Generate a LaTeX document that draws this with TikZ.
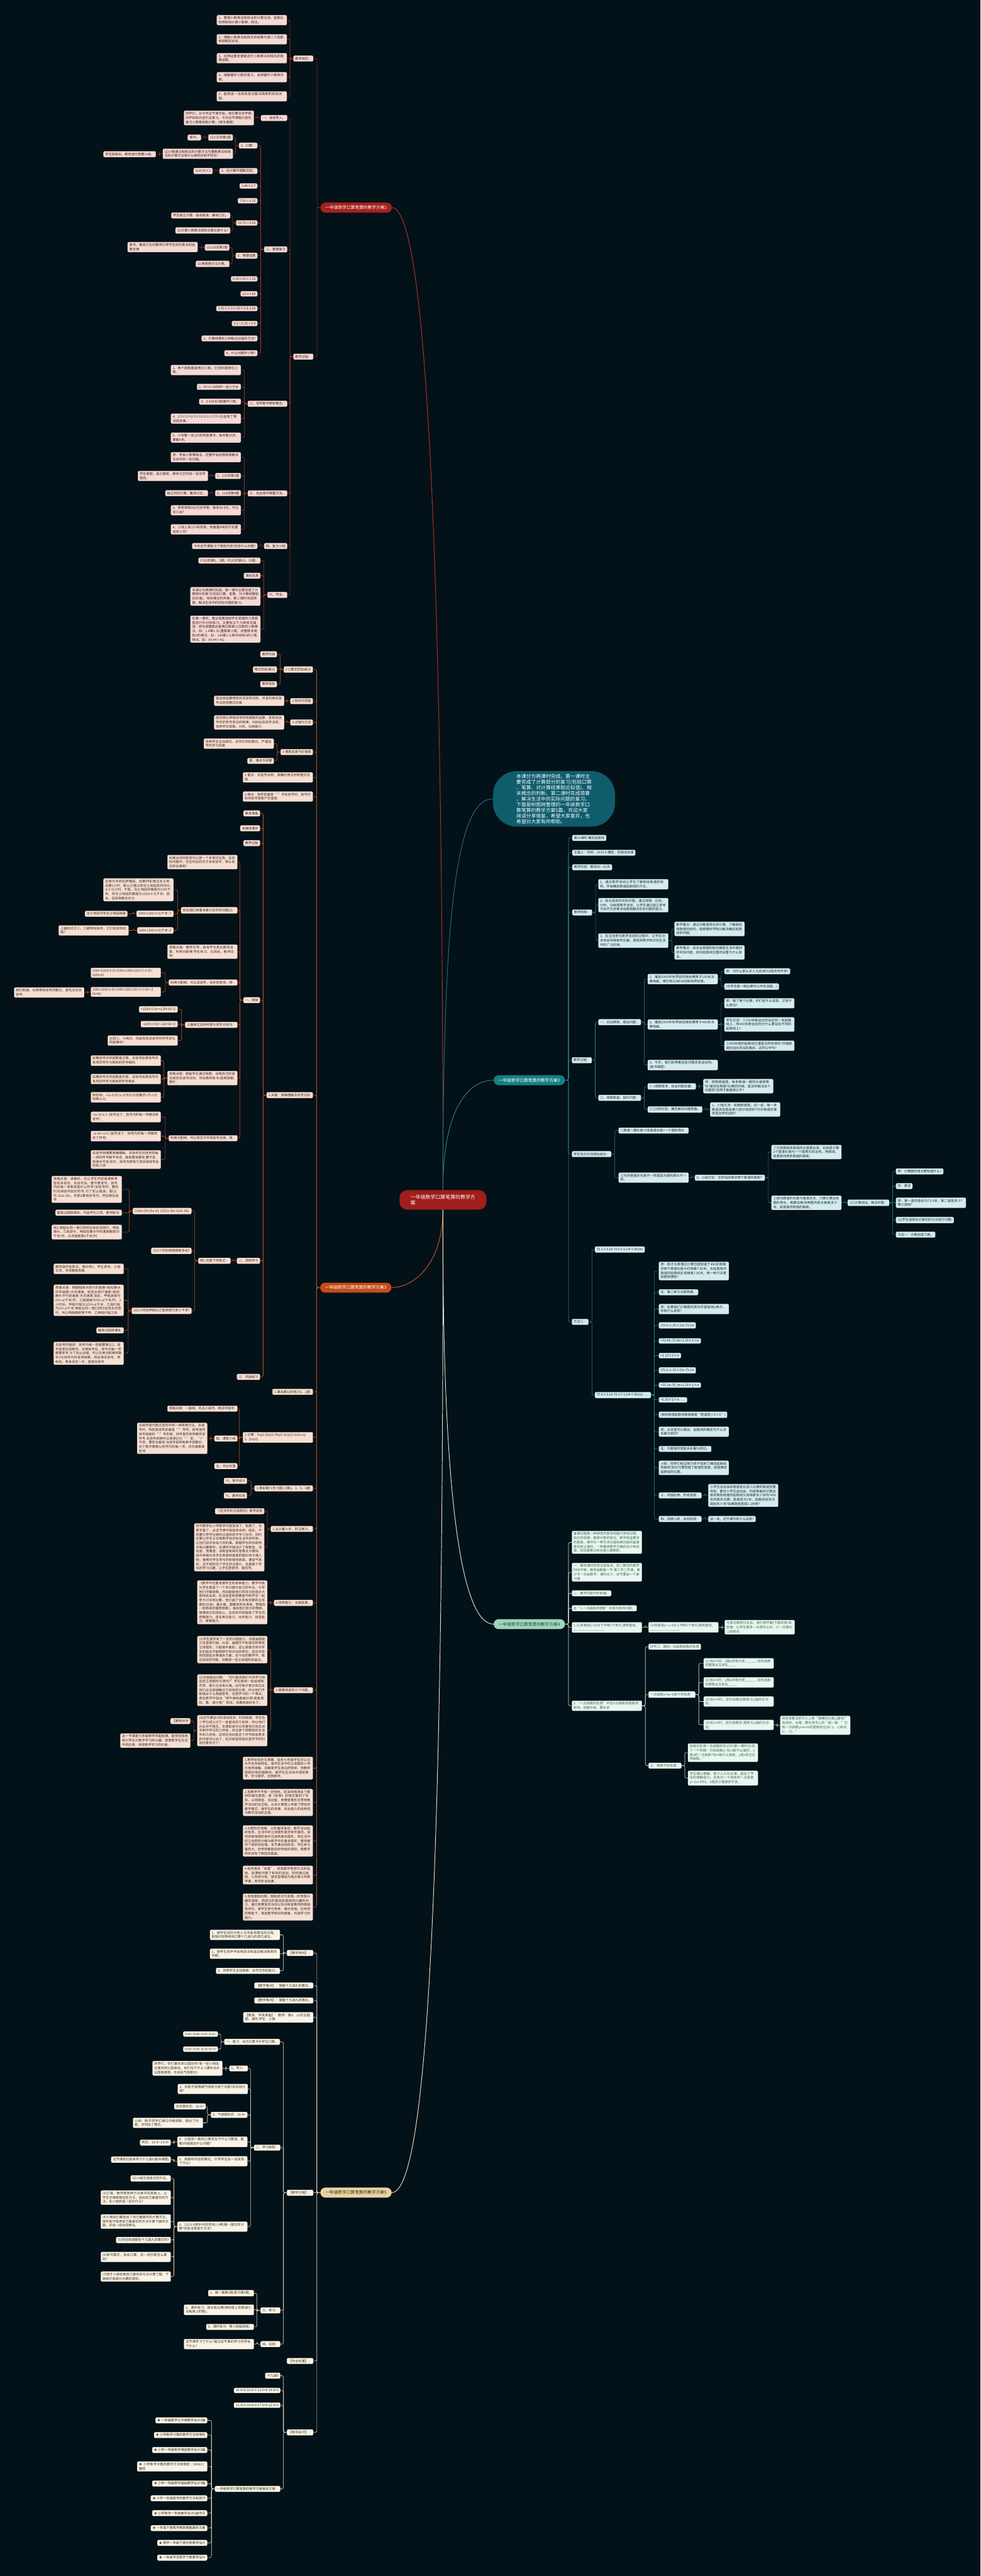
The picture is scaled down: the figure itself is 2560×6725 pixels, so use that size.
\documentclass[tikz,border=0pt]{standalone}
\usepackage{fontspec}
\setmainfont{Noto Sans CJK SC}
\XeTeXlinebreaklocale "zh"
\XeTeXlinebreakskip=0pt plus 1pt
\usetikzlibrary{calc}
\definecolor{bgdark}{RGB}{3,17,24}
\definecolor{ctrred}{RGB}{160,30,28}
\definecolor{introbg}{RGB}{14,92,108}
\definecolor{introline}{RGB}{40,110,122}
\definecolor{redmain}{RGB}{166,33,27}
\definecolor{redleaf}{RGB}{243,218,213}
\definecolor{redline}{RGB}{176,52,38}
\definecolor{redtext}{RGB}{60,30,25}
\definecolor{tealmain}{RGB}{22,128,132}
\definecolor{tealleaf}{RGB}{213,236,238}
\definecolor{tealline}{RGB}{44,128,134}
\definecolor{tealtext}{RGB}{25,40,42}
\definecolor{orgmain}{RGB}{196,76,24}
\definecolor{orgleaf}{RGB}{246,224,213}
\definecolor{orgline}{RGB}{204,82,32}
\definecolor{orgtext}{RGB}{60,35,25}
\definecolor{mintmain}{RGB}{158,214,188}
\definecolor{mintleaf}{RGB}{234,246,240}
\definecolor{mintline}{RGB}{205,232,219}
\definecolor{minttext}{RGB}{52,104,80}
\definecolor{beigemain}{RGB}{232,211,160}
\definecolor{beigeleaf}{RGB}{249,244,231}
\definecolor{beigeline}{RGB}{232,222,196}
\definecolor{beigetext}{RGB}{55,45,32}
\newcommand{\lsub}[3]{\foreach \nn in {#3}{\draw[#1] (#2.west) -- ++(-9pt,0) |- (\nn.east);}}
\newcommand{\rsub}[3]{\foreach \nn in {#3}{\draw[#1] (#2.east) -- ++(9pt,0) |- (\nn.west);}}

\begin{document}
\begin{tikzpicture}[x=1pt,y=-1pt,
  nd/.style={font=\fontsize{8.5}{11}\selectfont,inner xsep=4.5pt,inner ysep=3.5pt,rounded corners=2.5pt,align=left,line width=0.5pt},
  ml/.style={text width=173.5pt},
  mainbox/.style={font=\fontsize{11}{13}\selectfont,rounded corners=13pt,minimum height=26pt,inner xsep=13pt},
  rl/.style={nd,fill=redleaf,draw=redleaf!80!redline,text=redtext,anchor=east},
  tl/.style={nd,fill=tealleaf,draw=tealleaf!80!tealline,text=tealtext,anchor=west},
  ol/.style={nd,fill=orgleaf,draw=orgleaf!80!orgline,text=orgtext,anchor=east},
  gl/.style={nd,fill=mintleaf,draw=mintleaf!85!minttext,text=minttext,anchor=west},
  bl/.style={nd,fill=beigeleaf,draw=beigeleaf!85!beigetext,text=beigetext,anchor=east},
  rc/.style={draw=redline,line width=1pt,rounded corners=4pt},
  tc/.style={draw=tealline,line width=1pt,rounded corners=4pt},
  oc/.style={draw=orgline,line width=1pt,rounded corners=4pt},
  gc/.style={draw=mintline,line width=1pt,rounded corners=4pt},
  bc/.style={draw=beigeline,line width=1pt,rounded corners=4pt},
  trunk/.style={line width=1.6pt}
]
\fill[bgdark] (0,0) rectangle (2560,6725);
\useasboundingbox (0,0) rectangle (2560,6725);

% centre and intro
\node[fill=ctrred,text=white,font=\fontsize{13}{16}\selectfont,rounded corners=20pt,minimum width=227pt,minimum height=51pt,align=left] (ctr) at (1156.5,3132.5) {一年级数学口算笔算的教学方\\案};
\node[fill=introbg,text=white,font=\fontsize{12.8}{14.7}\selectfont,rounded corners=62pt,minimum width=319pt,minimum height=145pt,align=left] (intro) at (1446.5,2085.5) {本课分为两课时完成。第一课时主\\要完成了计算部分的复习(包括口算\\、笔算、对计算结果取近似值)、相\\关概念的判断。第二课时完成简算\\、解决生活中的实际问题的复习。\\下面是树图网整理的一年级数学口\\算笔算的教学方案5篇，欢迎大家\\阅读分享借鉴，希望大家喜欢，也\\希望对大家有所帮助。};
\node[mainbox,fill=redmain,text=white] (p1) at (930,542) {一年级数学口算笔算的教学方案1};
\node[mainbox,fill=tealmain,text=white] (p2) at (1382,2820) {一年级数学口算笔算的教学方案2};
\node[mainbox,fill=orgmain,text=white] (p3) at (929,3361.5) {一年级数学口算笔算的教学方案3};
\node[mainbox,fill=mintmain,text=minttext!70!black] (p4) at (1382,4240) {一年级数学口算笔算的教学方案4};
\node[mainbox,fill=beigemain,text=beigetext] (p5) at (929.5,5724) {一年级数学口算笔算的教学方案5};

% plan 1
\node[rl] (r1) at (818,153) {教学目的：};
\node[rl] (r2) at (818,931) {教学过程：};
\node[rl,ml] (r11) at (749,52.5) {1、整理小数乘法和除法的计算法则，能够比较熟练地计算小数乘、除法。};
\node[rl,ml] (r12) at (749,102.5) {2、理解小数乘法和除法的结果与第二个因数和除数的关系。};
\node[rl,ml] (r13) at (749,152) {3、应用运算定律能进行小数乘法和除法的简便运算。};
\node[rl,ml] (r14) at (749,201.5) {4、理解循环小数的意义，会用循环小数表示商。};
\node[rl,ml] (r15) at (749,251.5) {5、能用进一法和收尾法解决简单的实际问题。};
\node[rl] (ra) at (750,308) {一、谈话导入。};
\node[rl,ml] (ra1) at (663,308) {同学们，从今天这节课开始，我们要对本学期所学和知识进行总复习。今天这节课我们首先复习小数乘除数计算。[板书课题]};
\node[rl] (rb) at (750,651) {二、整理复习};
\node[rl] (rb1) at (672,380) {1、口算：};
\node[rl] (rb1a) at (608,359) {(1)120页第1题};
\node[rl] (rb1aa) at (525,359) {填书。};
\node[rl,ml] (rb1b) at (608,401.5) {(2)小数乘法和除法的计算方法与整数乘法和除法的计算方法有什么相同点和不同点?};
\node[rl] (rb1ba) at (407,402.5) {学生回答后，教师进行简要小结。};
\node[rl] (rb2) at (672,446.5) {2、在计算中理解法则。};
\node[rl] (rb2a) at (555,446.5) {(1)4.05×2};
\node[rl] (rb3) at (672,485.5) {1.84×3.7};
\node[rl] (rb4) at (672,524) {7.55÷0.25};
\node[rl] (rb5) at (672,582) {15.75÷0.63};
\node[rl] (rb5a) at (601,562.5) {学生独立计算，指名板演，集体订正。};
\node[rl] (rb5b) at (601,601.5) {(2)计算小数乘法和除法要注意什么?};
\node[rl] (rb6) at (672,667.5) {3、简便运算};
\node[rl] (rb6a) at (599,646) {(1)123页第2题};
\node[rl,ml] (rb6aa) at (516,645) {填书，集体订正时教师引导学生回忆乘法的运算定律.};
\node[rl] (rb6b) at (599,689) {(2)用简便方法计算。};
\node[rl] (rb7) at (672,728) {0.25×32×1.25};
\node[rl] (rb8) at (672,767) {10.1×85};
\node[rl] (rb9) at (672,805.5) {2.85×5.2+2.85×5.8-2.85};
\node[rl] (rb10) at (672,844.5) {3.6÷0.25÷0.4};
\node[rl] (rb11) at (672,883.5) {3、计算结果有几种取近似值的方法?};
\node[rl] (rb12) at (672,922) {4、什么叫循环小数?};
\node[rl] (rc) at (750,1054) {二、在判断中辨析概念。};
\node[rl,ml] (rc1) at (629,966) {1、两个因数都是两位小数，它的积是两位小数。};
\node[rl] (rc2) at (629,1010) {2、M×0.98的积一定小于M.};
\node[rl] (rc3) at (629,1048.5) {3、3.636363是循环小数。};
\node[rl,ml] (rc4) at (629,1093) {4、2.5×17+2.5×13=2.5×(17+13)运用了乘法结合律。};
\node[rl,ml] (rc5) at (629,1142.5) {5、小毛看一本120页的故事书，每天看35页，要看4天。};
\node[rl] (rd) at (750,1288) {三、在运用中掌握方法。};
\node[rl,ml] (rd1) at (629,1193.5) {师：学会小数乘除法，还要学会运用知道解决生活中的一些问题。};
\node[rl] (rd2) at (629,1242.5) {1、120页第2题};
\node[rl,ml] (rd2a) at (543,1242.5) {学生审题，独立解答，集体订正时说一说怎样想的。};
\node[rl] (rd3) at (629,1287.5) {2、123页第4题};
\node[rl] (rd3a) at (543,1287.5) {独立列式计算，集体订正。};
\node[rl,ml] (rd4) at (629,1332) {3、李老师用200元买字典，每本40.8元，可以买几本?};
\node[rl,ml] (rd5) at (629,1382) {4、工地上有171吨货物，用载重8吨的汽车要运多少次?};
\node[rl] (re) at (750,1425.5) {四、复习小结};
\node[rl] (re1) at (672,1425.5) {今天这节课复习了哪些内容?还有什么问题?};
\node[rl] (rf) at (750,1553) {六、作业。};
\node[rl] (rf1) at (680,1463.5) {P123页第1、3题，P125页第13、15题。};
\node[rl] (rf2) at (680,1503) {课后反思};
\node[rl,ml] (rf3) at (680,1557) {本课分为两课时完成。第一课时主要完成了计算部分的复习(包括口算、笔算、对计算结果取近似值)、相关概念的判断。第二课时完成简算、解决生活中的实际问题的复习。};
\node[rl,ml] (rf4) at (680,1642.5) {在第一课时，建议笔算选取学生易错的几类题型进行针对性练习。主要有以下几种常见错误：转化成整数后是两位数乘三位数的小数乘法，如：1.4乘1.32;整数乘小数，且整数末尾有0的乘法，如：140乘1.3;商中间有0的小数除法，如：89.44÷43。};
\lsub{rc}{p1}{r1,r2}
\lsub{rc}{r1}{r11,r12,r13,r14,r15}
\lsub{rc}{r2}{ra,rb,rc,rd,re,rf}
\lsub{rc}{ra}{ra1}
\lsub{rc}{rb}{rb1,rb2,rb3,rb4,rb5,rb6,rb7,rb8,rb9,rb10,rb11,rb12}
\lsub{rc}{rb1}{rb1a,rb1b}
\lsub{rc}{rb1a}{rb1aa}
\lsub{rc}{rb1b}{rb1ba}
\lsub{rc}{rb2}{rb2a}
\lsub{rc}{rb5}{rb5a,rb5b}
\lsub{rc}{rb6}{rb6a,rb6b}
\lsub{rc}{rb6a}{rb6aa}
\lsub{rc}{rc}{rc1,rc2,rc3,rc4,rc5}
\lsub{rc}{rd}{rd1,rd2,rd3,rd4,rd5}
\lsub{rc}{rd2}{rd2a}
\lsub{rc}{rd3}{rd3a}
\lsub{rc}{re}{re1}
\lsub{rc}{rf}{rf1,rf2,rf3,rf4}

% plan 2
\node[tl] (ta) at (1494,2187.5) {第10课时 确定起跑线};
\node[tl] (tb) at (1494,2226) {主备人：时间：2014.9 课型：实践活动课};
\node[tl] (tcc) at (1494,2264) {教学内容：教材80—81页};
\node[tl] (td) at (1494,2382) {教学目标：};
\node[tl,ml] (td1) at (1562,2308.5) {1、通过数学活动让学生了解田径跑道的结构，学会确定跑道起跑线的方法。};
\node[tl,ml] (td2) at (1562,2363) {2、结合具体的实际问题，通过观察、比较、分析、归纳等数学活动，让学生通过独立思考与合作交流等活动提高解决实际问题的能力。};
\node[tl,ml] (td3) at (1562,2455.5) {3、在主动参与数学活动的过程中，让学生切实体会到探索的乐趣，感受到数学知识在生活中的广泛应用。};
\node[tl,ml] (td31) at (1761,2425) {教学重点：通过对跑道周长的计算，了解田径场跑道的结构，能根据所学知识解决确定起跑线的问题。};
\node[tl,ml] (td32) at (1761,2486.5) {教学难点：综合运用圆的知识解答生活中遇到的实际问题，探究起跑线位置的设置与什么有关。};
\node[tl] (te) at (1493,2768) {教学过程：};
\node[tl] (te1) at (1562,2668.5) {一、创设情境，提出问题：};
\node[tl,ml] (te11) at (1691,2556) {1、播放2009年世界田径锦标赛男子100米决赛场面，博尔特以9秒58创新世界纪录。};
\node[tl] (te111) at (1891,2535.5) {师：为什么那么多人为这9秒58而欢呼不停?};
\node[tl] (te112) at (1891,2575.5) {(与学生聊一聊比赛中公平的话题。)};
\node[tl,ml] (te12) at (1691,2674.5) {2、播放2009年世界田径锦标赛男子400米决赛场面。};
\node[tl,ml] (te121) at (1891,2619) {师：看了两个比赛，你们有什么发现，又有什么想法?};
\node[tl,ml] (te122) at (1891,2674.5) {学生交流：①100米跑运动员站在同一条起跑线上，而400米跑运动员为什么要站在不同的起跑线上?};
\node[tl,ml] (te123) at (1891,2730) {②400米跑的起跑线位置是怎样安排的?外面跑道的运动员站在最前，这样公平吗?};
\node[tl,ml] (te13) at (1691,2780.5) {3、今天，我们就带着这些问题走进运动场。(板书课题)};
\node[tl] (te2) at (1562,2866) {二、观察跑道，探究问题：};
\node[tl] (te21) at (1691,2836) {(一)观察思考，找出问题关键。};
\node[tl,ml] (te211) at (1836,2835.5) {师：观察跑道图，每条跑道一圈的长度相等吗?差别在哪里?比赛的时候，是怎样解决这个问题的?怎样才能做到公平?};
\node[tl] (te22) at (1691,2896.5) {(二)分析比较，确定解决问题思路。};
\node[tl,ml] (te221) at (1854,2896.5) {1、小组交流：观察跑道图，说一说，每一条跑道具体是由哪几部分组成的?内外跑道的差异是怎样形成的?};
\node[tl] (tf) at (1493,3013) {学生充分交流得出结论：};
\node[tl,ml] (tf1) at (1615,2951.5) {①跑道一圈长度=2条直道长度+一个圆的周长};
\node[tl,ml] (tf2) at (1615,3074.5) {②内外跑道的长度不一样是因为圆的周长不一样。};
\node[tl,ml] (tf21) at (1814,3074.5) {2、小组讨论：怎样找出相邻两个跑道的差距?};
\node[tl,ml] (tf211) at (2014,3007.5) {①分别把每条跑道的长度算出来，也就是计算2个直道长度与一个圆周长的总和，再相减，就是相邻两条跑道的差距。};
\node[tl,ml] (tf212) at (2014,3140) {②因为跑道的长度与直道无关，只要计算出各圆的周长，再算出相邻两圆的周长相差多少米，就是相邻跑道的差距。};
\node[tl] (tf2121) at (2213,3140) {(三)计算验证，解决问题：};
\node[tl] (tg1) at (2339,3058) {师：计算圆的周长要知道什么?};
\node[tl] (tg2) at (2339,3096.5) {生：直径};
\node[tl,ml] (tg3) at (2339,3140) {师：第一道的直径为72.6米，第二道是多少?第三道呢?};
\node[tl] (tg4) at (2339,3185) {(让学生选择自己喜欢的方法进行计算)};
\node[tl] (tg5) at (2339,3223) {方法一：计算完成下表。};
\node[tl] (th) at (1493,3451) {方法二：};
\node[tl] (th1) at (1553,3262) {75.1×3.14-72.6×3.14=7.85(m)};
\node[tl] (th2) at (1553,3642) {77.6×3.14-75.1×3.14=7.85(m) ......};
\node[tl,ml] (th21) at (1720,3318) {师：刚才大家通过计算已经知道了400米跑相邻两个跑道长度大约相差7.85米，也就是相邻跑道的起跑线应该相差7.85米。哪一种方法更快更简便呢?};
\node[tl] (th22) at (1720,3373.5) {生：第二种方法更简便。};
\node[tl,ml] (th23) at (1720,3417.5) {师：如果我们计算圆的周长时直接用π表示，你有什么发现?};
\node[tl] (th24) at (1720,3460) {(72.6+1.25×2)π-72.6π};
\node[tl] (th25) at (1720,3500.5) {=72.6π-72.6π+1.25×2×π};
\node[tl] (th26) at (1720,3539) {=1.25×2×π};
\node[tl] (th27) at (1720,3577.5) {(75.1+1.25×2)π-75.1π};
\node[tl] (th28) at (1720,3616) {=75.1π-75.1π+1.25×2×π};
\node[tl] (th29) at (1720,3654.5) {=1.25×2×π ......};
\node[tl] (th2a) at (1720,3693.5) {(相邻跑道起跑线相差都是“跑道宽×2×π”)};
\node[tl,ml] (th2b) at (1720,3737.5) {师：从这里可以看出：起跑线的确定与什么关系最为密切?};
\node[tl] (th2c) at (1720,3782.5) {生：与跑道的宽度关系最为密切。};
\node[tl,ml] (th2d) at (1720,3832) {小结：同学们经过努力终于找到了确定起跑线的秘密!其实只要知道了跑道的宽度，就能确定起跑线的位置。};
\node[tl] (th2e) at (1720,3904) {三、巩固应用，形成技能：};
\node[tl,ml] (th2e1) at (1849,3904) {小学生运动会的跑道宽比成人比赛的跑道宽要窄些，要开小学生运动会，你能帮裁判计算出相邻两条跑道的起跑线又该相差多少米吗?400米的跑步比赛，跑道宽为1米，起跑线该依次提前多少米?如果跑道宽是1.2米呢?};
\node[tl] (th2f) at (1720,3965.5) {四、回顾小结，体验收获：};
\node[tl] (th2f1) at (1849,3965.5) {谈一谈，这节课你有什么收获?};
\rsub{tc}{p2}{ta,tb,tcc,td,te,tf,th}
\rsub{tc}{td}{td1,td2,td3}
\rsub{tc}{td3}{td31,td32}
\rsub{tc}{te}{te1,te2}
\rsub{tc}{te1}{te11,te12,te13}
\rsub{tc}{te11}{te111,te112}
\rsub{tc}{te12}{te121,te122,te123}
\rsub{tc}{te2}{te21,te22}
\rsub{tc}{te21}{te211}
\rsub{tc}{te22}{te221}
\rsub{tc}{tf}{tf1,tf2}
\rsub{tc}{tf2}{tf21}
\rsub{tc}{tf21}{tf211,tf212}
\rsub{tc}{tf212}{tf2121}
\rsub{tc}{tf2121}{tg1,tg2,tg3,tg4,tg5}
\rsub{tc}{th}{th1,th2}
\rsub{tc}{th2}{th21,th22,th23,th24,th25,th26,th27,th28,th29,th2a,th2b,th2c,th2d,th2e,th2f}
\rsub{tc}{th2e}{th2e1}
\rsub{tc}{th2f}{th2f1}

% plan 3
\node[ol] (oa) at (817,1748) {2.2 整式的加减(2)};
\node[ol] (oa1) at (723,1708) {教学内容};
\node[ol] (oa2) at (723,1748) {整式的加减(2)};
\node[ol] (oa3) at (723,1786) {教学目标};
\node[ol] (ob) at (817,1830.5) {1.知识与技能};
\node[ol,ml] (ob1) at (742,1829.5) {能运用运算律探究去括号法则，并且利用去括号法则将整式化简.};
\node[ol] (oc) at (817,1886) {2.过程与方法};
\node[ol,ml] (oc1) at (742,1886) {经历类比带有括号的有理数的运算，发现去括号时的符号变化的规律，归纳出去括号法则，培养学生观察、分析、归纳能力.};
\node[ol] (od) at (817,1963.5) {3.情感态度与价值观};
\node[ol,ml] (od1) at (715,1941.5) {培养学生主动探究、合作交流的意识，严谨治学的学习态度.};
\node[ol] (od2) at (715,1986.5) {重、难点与关键};
\node[ol,ml] (oe) at (817,2029.5) {1.重点：去括号法则，准确应用法则将整式化简.};
\node[ol,ml] (of) at (817,2079.5) {2.难点：括号前面是“-”号去括号时，括号内各项变号容易产生错误.};
\node[ol] (og) at (817,2859) {3.关键：准确理解去括号法则.};
\node[ol] (og1) at (679,2123.5) {教具准备};
\node[ol] (og2) at (679,2162.5) {多媒体课件};
\node[ol] (og3) at (679,2201) {教学过程};
\node[ol] (og4) at (679,2611) {一、新授};
\node[ol] (og5) at (679,3291.5) {二、范例学习};
\node[ol] (og6) at (679,3594.5) {三、巩固练习};
\node[ol,ml] (n1) at (620,2250.5) {利用合并同类项可以把一个多项式化简，在实际问题中，往往列出的式子含有括号，那么该怎样化简呢?};
\node[ol] (n2) at (620,2376.5) {现在我们来看本章引言中的问题(3)：};
\node[ol,ml] (n21) at (453,2323) {在格尔木到拉萨路段，如果列车通过冻土地段要t小时，那么它通过非冻土地段的时间为(t-0.5)小时，于是，冻土地段的路程为100t千米，非冻土地段的路程为120(t-0.5)千米，因此，这段铁路全长为};
\node[ol] (n22) at (453,2385.5) {100t+120(t-0.5)千米 ①};
\node[ol] (n221) at (333,2385.5) {冻土地段与非冻土地段相差};
\node[ol] (n23) at (453,2429) {100t-120(t-0.5)千米 ②};
\node[ol,ml] (n231) at (336,2429) {上面的式子①、②都带有括号，它们应如何化简?};
\node[ol,ml] (n3) at (620,2484.5) {思路点拨：教师引导，启发学生类比数的运算，利用分配律.学生练习、交流后，教师归纳：};
\node[ol] (n4) at (620,2565) {利用分配律，可以去括号，合并同类项，得：};
\node[ol,ml] (n41) at (420,2539.5) {100t+120(t-0.5)=100t+120t+120×(-0.5)=\\220t-60};
\node[ol,ml] (n42) at (420,2589.5) {100t-120(t-0.5)=100t-120t-120×(-0.5)=-2\\0t+60};
\node[ol,ml] (n421) at (220,2591) {我们知道，化简带有括号的整式，首先应先去括号.};
\node[ol] (n5) at (620,2675.5) {上面两式去括号部分变形分别为：};
\node[ol] (n51) at (464,2635) {+120(t-0.5)=+120t-60 ③};
\node[ol] (n52) at (464,2673.5) {-120(t-0.5)=-120+60 ④};
\node[ol,ml] (n53) at (464,2716.5) {比较③、④两式，你能发现去括号时符号变化的规律吗?};
\node[ol,ml] (n6) at (620,2814.5) {思路点拨：鼓励学生通过观察，试用自己的语言叙述去括号法则，然后教师板书(或用屏幕)展示：};
\node[ol,ml] (n61) at (420,2769) {如果括号外的因数是正数，去括号后原括号内各项的符号与原来的符号相同;};
\node[ol,ml] (n62) at (420,2817) {如果括号外的因数是负数，去括号后原括号内各项的符号与原来的符号相反.};
\node[ol,ml] (n63) at (420,2864.5) {特别地，+(x-3)与-(x-3)可以分别看作1与-1分别乘(x-3).};
\node[ol] (n7) at (620,2971.5) {利用分配律，可以将式子中的括号去掉，得：};
\node[ol,ml] (n71) at (420,2916) {+(x-3)=x-3 (括号没了，括号内的每一项都没有变号)};
\node[ol,ml] (n72) at (420,2966) {-(x-3)=-x+3 (括号没了，括号内的每一项都改变了符号)};
\node[ol,ml] (n73) at (420,3027) {去括号规律要准确理解，去括号应对括号的每一项的符号都予考虑，做到要变都变;要不变，则谁也不变;另外，括号内原有几项去掉括号后仍有几项.};
\node[ol] (e1) at (602,3291.5) {例1.化简下列各式：};
\node[ol] (e11) at (500,3161.5) {(1)8a+2b+(5a-b); (2)(5a-3b)-3(a2-2b).};
\node[ol,ml] (e111) at (318,3105) {思路点拨：讲解时，先让学生判定是哪种类型的去括号，去括号后，要不要变号，括号内的每一项原来是什么符号?去括号时，要同时去掉括号前的符号.为了防止错误，题(2)中-3(a2-2b)，先把3乘到括号内，然后再去括号.};
\node[ol] (e112) at (318,3166) {解答过程按课本，可由学生口述，教师板书.};
\node[ol,ml] (e113) at (318,3216.5) {例2.两船从同一港口同时出发反向而行，甲船顺水，乙船逆水，两船在静水中的速度都是50千米/时，水流速度是a千米/时.};
\node[ol] (e12) at (500,3265.5) {(1)2小时后两船相距多远?};
\node[ol] (e13) at (500,3422) {(2)2小时后甲船比乙船多航行多少千米?};
\node[ol,ml] (e131) at (323,3312.5) {教师操作投影仪，展示例2，学生思考、小组交流，寻求解答思路.};
\node[ol,ml] (e132) at (323,3394.5) {思路点拨：根据船顺水航行的速度=船在静水中的速度+水流速度，船逆水航行速度=船在静水中行驶速度-水流速度.因此，甲船速度为(50+a)千米/时，乙船速度为(50-a)千米/时，2小时后，甲船行程为2(50+a)千米，乙船行程为(50-a)千米.两船从同一港口同时出发反向而行，所以两船相距等于甲、乙两船行程之和.};
\node[ol] (e133) at (323,3473) {解答过程按课本.};
\node[ol,ml] (e134) at (323,3533) {去括号时强调：括号内每一项都要乘以2，括号前是负因数时，去掉括号后，括号内每一项都要变号.为了防止出错，可以先用分配律将数字2与括号内的各项相乘，然后再去括号，熟练后，再省去这一步，直接去括号.};
\node[ol] (oh) at (817,3633.5) {1.课本第68页练习1、2题.};
\node[ol,ml] (oi) at (817,3752.5) {2.计算：5xy2-[3xy2-(4xy2-2x2y)]+2x2y-xy\\2. [5xy2]};
\node[ol,ml] (oi1) at (620,3677.5) {思路点拨：一般地，先去小括号，再去中括号.};
\node[ol] (oi2) at (620,3755.5) {四、课堂小结};
\node[ol,ml] (oi21) at (541,3755) {去括号是代数式变形中的一种常用方法，去括号时，特别是括号前面是“-”号时，括号连同括号前面的“-”号去掉，括号里的各项都改变符号.去括号规律可以简单记为“-”变，“+”不变，要变全都变.当括号前带有数字因数时，这个数字要乘以括号内的每一项，切勿漏乘某些项.};
\node[ol] (oi3) at (620,3827.5) {五、作业布置};
\node[ol] (oj) at (817,3885.5) {1.课本第71页习题2.2第2、3、5、8题.};
\node[ol] (oj1) at (645,3866) {六、板书设计};
\node[ol] (oj2) at (645,3904.5) {七、教学反思};
\node[ol] (ok) at (817,3991.5) {1.从兴趣入手，抓注意力。};
\node[ol] (ok1) at (690,3945) {《生活中的立体图形》教学反思};
\node[ol,ml] (ok2) at (690,4039.5) {初中数学比小学数学内容加深了、拓展了，也更丰富了，从这节课中就能体会到。因此，不但要引导学生顺利过渡到初中学习当中，同时还要让学生认识到数学在实际生活中的作用，让他们初步体会几何的美。根据学生的年龄特点和兴趣爱好，在课件中我设计了观察室、活动室、竞赛室、训练室和探究室等五大模块，其中穿插许多学生熟悉和喜爱的图片和卡通人物，使用时学生参与的积极性很高，课堂气氛好，这不但抓住了学生的注意力，还提高了学生的学习兴趣，让学生愿意学、喜欢学。};
\node[ol] (ol) at (817,4184.5) {2.培养能力，全面发展。};
\node[ol,ml] (ol1) at (698,4183) {《教学中还要发展学生的各种能力。教学中我为学生营造了一个充分展示自己的平台，引导他们仔细观察，然后鼓励他们将自己的观点大胆地说出来，在活动室和竞赛室中和学生一起参与讨论和比赛，他们画了许多有创意的立体图形(比如，墨水瓶、圆锥体的冰淇淋、草帽及一些简单的建筑物等)，我给他们充分的赞扬，增强他们的自信心。这无形中就锻炼了学生的观察能力、语言表达能力、动手能力、创造能力、审美能力。};
\node[ol] (om) at (817,4412.5) {3.需要改进的三个问题。};
\node[ol,ml] (om1) at (698,4306.5) {(1)学生虽然有了一定的识图能力，但是画图能力还是很欠缺。比如，画图时不知道怎样表现立体图形，只能画平面的。这让我意识到对学生的起点不能局限于知识点的研究，还应涉及到技能起点等诸多方面，在今后的教学中，我应该规范作图，并教授一些立体图形的画法。};
\node[ol,ml] (om2) at (698,4412.5) {(2)当我提出问题：“你们能将我们今天学习到这些立体图形分类吗?”学生感到一些迷惑和茫然，很久也没有头绪。此时我才意识到过去他们从没有接触过几何体的分类，所以他们不知道从什么角度思考，这是学习的一个难点。若在教学中指出“按平面和曲面分类(或者按柱、锥、球分类)”的话，效果就会好多了。};
\node[ol,ml] (om3) at (698,4518) {(3)这节课设计的活动较多，时间很紧，学生在小学已经认识了一些基本的几何体，所以他们对此并不陌生，在课前就可以布置他们回去动手制作学过的几何体，并记录下观察到的生活中的几何体。这样在活动室这个环节就有更多的内容可以说了，在训练室和探究室环节的时间也更充分了!};
\node[ol] (om31) at (497,4493) {【案例点评};
\node[ol,ml] (om32) at (497,4544) {这一节课是七年级数学的起始课，能否较快地吸引学生对数学学习的兴趣，感悟数学在生活中的应用，体现数学学习的价值，};
\node[ol,ml] (on) at (817,4616) {1.教学目标定位准确，适合七年级学生的认识水平及年龄特征。虽然生活中的立体图形小学已有所接触，且都是学生身边的物体，但教师能很好地挖掘教材，使学生在活动中感受数学、学习数学、欣赏数学。};
\node[ol,ml] (oo) at (817,4705.5) {2.各教学环节有一定特色，较深刻地领会了教材的编写意图，使《标准》的理念落到了实处。以观察室、活动室、竞赛室等形式贯穿教学活动的全过程，从设计意图上突破了原有的教学模式，使学生的发展、综合能力的培养成为教学活动的主题。};
\node[ol,ml] (op) at (817,4806) {3.对图形的观察、分析循序渐进，教学活动组织有序。生活中的立体图形是非常丰富的，如何将简单图形逐步过渡到复杂图形，将生活中的立体图形分解为数学中的基本图形，教师都作了很好的处理。本节课活动较多，学生参与量较大，但老师都能较好地组织调控，使教学的实效有了明显的提高。};
\node[ol,ml] (oq) at (817,4895) {4.有效落实“双基”，体现数学思想方法的运用。该课既开展了有效的活动，同时通过画图、几何体分类，使这堂课成为真正意义的数学课，而并非活动课。};
\node[ol,ml] (os) at (817,4978.5) {5.渗透激励机制，鼓励成功与发展。好奇是兴趣的源泉，而成功的喜悦则是保持兴趣的动力。通过竞赛室的活动以及训练室教师的鼓励性评价，使学生参与竞争，展示自我。在老师的帮助下，增加数学知识的储备，巩固学习的能力。};
\lsub{oc}{p3}{oa,ob,oc,od,oe,of,og,oh,oi,oj,ok,ol,om,on,oo,op,oq,os}
\lsub{oc}{oa}{oa1,oa2,oa3}
\lsub{oc}{ob}{ob1}
\lsub{oc}{oc}{oc1}
\lsub{oc}{od}{od1,od2}
\lsub{oc}{og}{og1,og2,og3,og4,og5,og6}
\lsub{oc}{og4}{n1,n2,n3,n4,n5,n6,n7}
\lsub{oc}{n2}{n21,n22,n23}
\lsub{oc}{n22}{n221}
\lsub{oc}{n23}{n231}
\lsub{oc}{n4}{n41,n42}
\lsub{oc}{n42}{n421}
\lsub{oc}{n5}{n51,n52,n53}
\lsub{oc}{n6}{n61,n62,n63}
\lsub{oc}{n7}{n71,n72,n73}
\lsub{oc}{og5}{e1}
\lsub{oc}{e1}{e11,e12,e13}
\lsub{oc}{e11}{e111,e112,e113}
\lsub{oc}{e13}{e131,e132,e133,e134}
\lsub{oc}{oi}{oi1,oi2,oi3}
\lsub{oc}{oi2}{oi21}
\lsub{oc}{oj}{oj1,oj2}
\lsub{oc}{ok}{ok1,ok2}
\lsub{oc}{ol}{ol1}
\lsub{oc}{om}{om1,om2,om3}
\lsub{oc}{om3}{om31,om32}

% plan 4
\node[gl,ml] (ga) at (1493,4026.5) {备课过程是一种艰苦的复杂的脑力劳动过程，知识的发展、教育对象的变化、教学效益要求的提高，使作为一种艺术创造和再创造的备课是没有止境的，一种最佳教学方案的设计和选择，往往是难以完全使人满意的。};
\node[gl,ml] (gb) at (1493,4104.5) {一：教材课时安排过紧有关。初二教材的教学时间不够，教参函数第一节 第二节二节课，第三节一次函数节，课时太少，本节要加一个复习课};
\node[gl] (gcc) at (1493,4159.5) {二：教学内容不好处理。};
\node[gl] (gd) at (1493,4198.5) {在“2.一次函数的图象”中有平移的问题。};
\node[gl,ml] (ge) at (1493,4248.5) {1.(1)将直线y=3x向下平移2个单位,得到直线\_\\\_\_\_\_\_\_\_\_\_\_\_\_\_\_\_\_;};
\node[gl,ml] (ge1) at (1693,4248.5) {(2)将直线y=-x-5向上平移5个单位,得到直线\_\\\_\_\_\_\_\_\_\_\_\_\_\_\_\_\_\_.};
\node[gl,ml] (ge11) at (1892,4248) {与多位教师讨论后，我们用学案(下面的表)来处理，让学生更多一点感性认识，少一点理论上的结论};
\node[gl,ml] (gf) at (1493,4453) {2.“一次函数的性质”中无b对函数的图象的影响，但题中有，要补讲};
\node[gl] (gf1) at (1693,4299) {环节二：概括一次函数图象的性质};
\node[gl] (gf2) at (1693,4424) {一次函数y=kx+b有下列性质：};
\node[gl,ml] (gf21) at (1837,4342.5) {(1)当k>0时，y随x的增大而\_\_\_\_\_，这时函数的图象从左到右\_\_\_\_;};
\node[gl,ml] (gf22) at (1837,4392) {(2)当k<0时，y随x的增大而\_\_\_\_\_，这时函数的图象从左到右\_\_\_\_.};
\node[gl,ml] (gf23) at (1837,4442) {(3)当b>0时，这时函数的图象与y轴的交点在：};
\node[gl,ml] (gf24) at (1837,4503) {(4)当b>0时，这时函数的 图象与y轴的交点在：};
\node[gl,ml] (gf241) at (2037,4504) {待定系数法的引入上用“弹簧的长度y(厘米)”来讲的，太难，要先讲书上的“做一做：”已知一次函数y=kx+b的图象经过点(-1，1)和点(1，-5)，”};
\node[gl] (gf3) at (1693,4609.5) {三：难度不好处理：};
\node[gl,ml] (gf31) at (1796,4575.5) {如我们在讲一次函数的定义时(第一课时)补充了一个例题：已知函数y=当m取什么值时，y是x的一次函数?当m取什么值是，y是x的正比例函数。”};
\node[gl,ml] (gf32) at (1796,4642) {学生难以理解，我个人认为太难，超出了学生的理解能力。反而对一个具体的一次函数y=-2x+3中k，b是多少强调的不多。};
\rsub{gc}{p4}{ga,gb,gcc,gd,ge,gf}
\rsub{gc}{ge}{ge1}
\rsub{gc}{ge1}{ge11}
\rsub{gc}{gf}{gf1,gf2,gf3}
\rsub{gc}{gf2}{gf21,gf22,gf23,gf24}
\rsub{gc}{gf24}{gf241}
\rsub{gc}{gf3}{gf31,gf32}

% plan 5
\node[bl] (ba) at (818,5098.5) {【教学目标】：};
\node[bl,ml] (ba1) at (731,5051) {1、使学生经历与他人交流各自算法的过程，能够比较熟练地口算十几减九的退位减法。};
\node[bl,ml] (ba2) at (731,5100.5) {2、使学生初步学会用加法和减法解决简单的问题。};
\node[bl] (ba3) at (731,5145) {3、培养学生主动探索、合作交流的能力。};
\node[bl] (bb) at (818,5183.5) {【教学重点】：掌握十几减九的算法。};
\node[bl] (bcc) at (818,5222.5) {【教学难点】：掌握十几减九的算法。};
\node[bl,ml] (bd) at (818,5266.5) {【教具、学具准备】：教师：第9、10页主题图、课件;学生：小棒};
\node[bl] (be) at (818,5724.5) {【教学过程】：};
\node[bl] (be1) at (731,5330.5) {一、复习：出示口算卡片学生口算。};
\node[bl] (be11) at (569,5310) {9+4= 9+8= 9+6= 9+2=};
\node[bl] (be12) at (569,5349.5) {9+9= 9+5= 9+3= 9+7=};
\node[bl] (be2) at (732,5606.5) {二、学习新知：};
\node[bl] (be21) at (647,5400) {1、导入：};
\node[bl,ml] (be211) at (581,5399.5) {同学们，你们喜欢到公园玩吗?有一些小朋友也喜欢到公园来玩。他们在干什么?(课件出示公园情景图，先突出气球部分)};
\node[bl,ml] (be22) at (647,5453.5) {2、你能不能根据气球部分提个问题?风车部分呢?};
\node[bl] (be23) at (646,5521) {3、气球图列式：15-9=};
\node[bl] (be231) at (537,5499) {风车图列式：16-9=};
\node[bl,ml] (be232) at (530,5542) {小结：刚才同学们通过仔细观察，提出了问题，并列出了算式。};
\node[bl,ml] (be24) at (646,5591.5) {4、公园另一角的小朋友在干什么?(猜谜、套圈)你能提出什么问题?};
\node[bl] (be241) at (446,5593.5) {列式：13-9= 14-9=};
\node[bl,ml] (be25) at (646,5642) {5、观察所列出的算式，引导学生说一说发现了什么?};
\node[bl] (be251) at (446,5638) {这节课我们就来学习十几减9(板书课题)};
\node[bl,ml] (be26) at (646,5813) {6、(1)15-9用手中的学具(小棒)摆一摆怎样计算?还有没有其它方法?};
\node[bl] (be261) at (446,5687) {(2)小组交流自己的方法。};
\node[bl,ml] (be262) at (446,5737) {(3)汇报，教师把各种方法板书在黑板上，让学生仔细观察这些方法，选出自己最喜欢的方法，在小组欢说一说为什么?};
\node[bl,ml] (be263) at (446,5799.5) {(4)小朋友们都选出了自己最喜欢的计算方法，那你能不能用自己最喜欢的方法计算下面的式题，并说一说你的想法。};
\node[bl] (be264) at (446,5848) {(5)你还知道那些十几减九的算式吗?};
\node[bl,ml] (be265) at (446,5892) {(6)板书算式，指名口算，说一说你是怎么算的?};
\node[bl,ml] (be266) at (446,5943) {(7)刚才小朋友用自己喜欢的方法计算了题。下面我们来做分水果的游戏。};
\node[bl] (be3) at (732,6031.5) {三、练习：};
\node[bl] (be31) at (663,5986.5) {1、做一做第2题;练习第2题。};
\node[bl,ml] (be32) at (663,6030) {2、课件练习：跳木桩比赛(用树桩上的数减小白兔身上的数)。};
\node[bl] (be33) at (663,6074.5) {3、课件练习：帮小蚂蚁回家。};
\node[bl] (be4) at (732,6119.5) {四、总结：};
\node[bl,ml] (be41) at (663,6119.5) {这节课学习了什么?通过这节课的学习你学会了什么?};
\node[bl] (bf) at (818,6163.5) {【作业布置】：};
\node[bl] (bg) at (818,6350) {【板书设计】：};
\node[bl] (bg1) at (732,6202) {十几减9};
\node[bl] (bg2) at (732,6240.5) {15-9=6 16-9=7 13-9=4 14-9=5};
\node[bl] (bg3) at (732,6279) {11-9=2 18-9=9 17-9=8 12-9=3};
\node[bl] (bg4) at (732,6497.5) {一年级数学口算笔算的教学方案相关文章：};
\node[bl] (bg41) at (541,6318.5) {★ 一年级数学公开课教学设计5篇};
\node[bl] (bg42) at (541,6357) {★ 小学数学计算的教学方法有哪些};
\node[bl] (bg43) at (541,6396) {★ 小学一年级数学课堂教学设计5篇};
\node[bl,ml] (bg44) at (541,6439) {★ 小学数学计算的教学方法有哪些 - 5068儿童网};
\node[bl] (bg45) at (541,6483.5) {★ 小学一年级数学基础教学设计5篇};
\node[bl] (bg46) at (541,6522) {★ 小学一年级数学的教学方法和技巧};
\node[bl] (bg47) at (541,6561) {★ 小学数学一年级教学设计5篇作文};
\node[bl] (bg48) at (541,6600) {★ 一年级下册数学教数教案最新文案};
\node[bl] (bg49) at (541,6638.5) {★ 数学一年级下册优秀教学设计};
\node[bl] (bg40) at (541,6677) {★ 一年级学生数学下册教学设计};
\lsub{bc}{p5}{ba,bb,bcc,bd,be,bf,bg}
\lsub{bc}{ba}{ba1,ba2,ba3}
\lsub{bc}{be}{be1,be2,be3,be4}
\lsub{bc}{be1}{be11,be12}
\lsub{bc}{be2}{be21,be22,be23,be24,be25,be26}
\lsub{bc}{be21}{be211}
\lsub{bc}{be23}{be231,be232}
\lsub{bc}{be24}{be241}
\lsub{bc}{be25}{be251}
\lsub{bc}{be26}{be261,be262,be263,be264,be265,be266}
\lsub{bc}{be3}{be31,be32,be33}
\lsub{bc}{be4}{be41}
\lsub{bc}{bg}{bg1,bg2,bg3,bg4}
\lsub{bc}{bg4}{bg41,bg42,bg43,bg44,bg45,bg46,bg47,bg48,bg49,bg40}

% trunks from the centre
\draw[redline,trunk] (ctr.north) .. controls (1156,1200) and (1100,542) .. (p1.east);
\draw[tealline,trunk] (ctr.north) .. controls (1156,2900) and (1220,2820) .. (p2.west);
\draw[introline,trunk] (ctr.north) .. controls (1156,2400) and (1190,2085) .. (intro.west);
\draw[orgline,trunk] (ctr.south) .. controls (1156,3300) and (1080,3361.5) .. (p3.east);
\draw[mintline,trunk] (ctr.south) .. controls (1154,3950) and (1210,4240) .. (p4.west);
\draw[beigeline,trunk] (ctr.south) .. controls (1158,5000) and (1110,5724) .. (p5.east);
\end{tikzpicture}
\end{document}
